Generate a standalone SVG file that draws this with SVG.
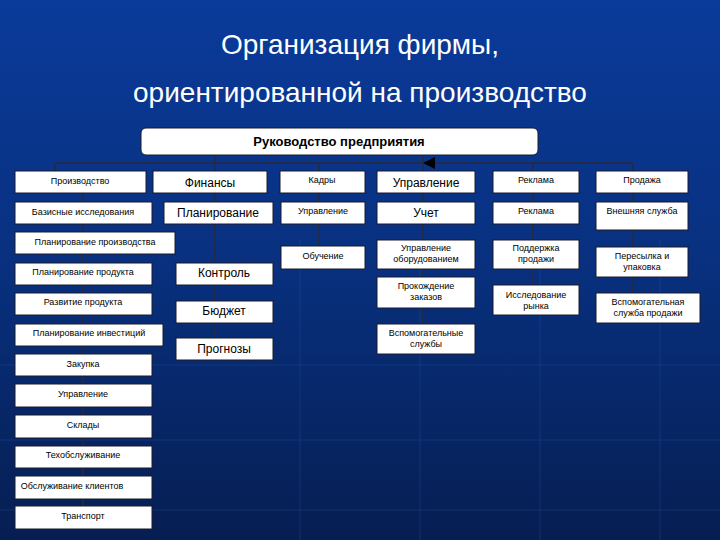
<svg xmlns="http://www.w3.org/2000/svg" width="720" height="540" viewBox="0 0 720 540">
<defs>
<linearGradient id="bg" x1="0" y1="0" x2="0" y2="1">
<stop offset="0" stop-color="#0a3a9a"/><stop offset="0.5" stop-color="#08307e"/><stop offset="1" stop-color="#061e52"/>
</linearGradient>
<marker id="ar" viewBox="0 0 10 10" refX="5" refY="10" markerWidth="8" markerHeight="8" orient="auto"><path d="M0,0 L10,0 L5,10 z" fill="#000"/></marker>
</defs>
<style>
.b{fill:#fff;stroke:#1a1a2a;stroke-width:1}
.s{font-family:"Liberation Sans",Arial,sans-serif;font-size:9px;fill:#000;text-anchor:middle}
.m{font-family:"Liberation Sans",Arial,sans-serif;font-size:12px;fill:#000;text-anchor:middle}
.c{stroke:#2a2a3a;stroke-width:1.5;fill:none}
.g{stroke:#2a5ab0;stroke-width:0.6;opacity:0.5}
</style>
<rect width="720" height="540" fill="url(#bg)"/>
<g class="g"><line x1="0" y1="365" x2="720" y2="365"/><line x1="0" y1="440" x2="720" y2="440"/><line x1="0" y1="510" x2="720" y2="510"/><line x1="300" y1="240" x2="300" y2="540"/><line x1="420" y1="240" x2="420" y2="540"/><line x1="540" y1="240" x2="540" y2="540"/><line x1="660" y1="240" x2="660" y2="540"/></g>
<text x="360" y="54" font-family="Liberation Sans,Arial,sans-serif" font-size="28" fill="#fff" text-anchor="middle">Организация фирмы,</text>
<text x="360" y="102" font-family="Liberation Sans,Arial,sans-serif" font-size="28" fill="#fff" text-anchor="middle">ориентированной на производство</text>
<g id="connectors" class="c">
<line x1="55" y1="163" x2="633" y2="163"/>
<line x1="423" y1="155" x2="423" y2="163" marker-end="url(#ar)"/>
<line x1="55" y1="163" x2="55" y2="171"/>
<line x1="83" y1="193" x2="83" y2="506"/>
<line x1="215" y1="155" x2="215" y2="338"/>
<line x1="319" y1="163" x2="319" y2="246"/>
<line x1="423" y1="163" x2="423" y2="324"/>
<line x1="533" y1="163" x2="533" y2="285"/>
<line x1="633" y1="163" x2="633" y2="293"/>
</g>
<g id="top"><rect x="141" y="128" width="397" height="27" rx="5" class="b"/><text x="339" y="146" font-family="Liberation Sans,Arial,sans-serif" font-size="13" font-weight="bold" text-anchor="middle">Руководство предприятия</text></g>
<g id="n1"><rect class="b" x="15" y="171" width="131" height="22"/><text class="s" x="80" y="184">Производство</text></g>
<g id="n2"><rect class="b" x="15" y="202" width="137" height="22"/><text class="s" x="83" y="215">Базисные исследования</text></g>
<g id="n3"><rect class="b" x="15" y="232" width="160" height="22"/><text class="s" x="95" y="245">Планирование производства</text></g>
<g id="n4"><rect class="b" x="15" y="263" width="137" height="22"/><text class="s" x="83" y="275">Планирование продукта</text></g>
<g id="n5"><rect class="b" x="15" y="293" width="137" height="22"/><text class="s" x="83" y="305">Развитие продукта</text></g>
<g id="n6"><rect class="b" x="15" y="324" width="148" height="22"/><text class="s" x="89" y="336">Планирование инвестиций</text></g>
<g id="n7"><rect class="b" x="15" y="354" width="137" height="22"/><text class="s" x="83" y="367">Закупка</text></g>
<g id="n8"><rect class="b" x="15" y="384" width="137" height="23"/><text class="s" x="83" y="397">Управление</text></g>
<g id="n9"><rect class="b" x="15" y="415" width="137" height="23"/><text class="s" x="83" y="428">Склады</text></g>
<g id="n10"><rect class="b" x="15" y="446" width="137" height="22"/><text class="s" x="83" y="458">Техобслуживание</text></g>
<g id="n11"><rect class="b" x="15" y="476" width="137" height="23"/><text class="s" x="72" y="489">Обслуживание клиентов</text></g>
<g id="n12"><rect class="b" x="15" y="506" width="137" height="23"/><text class="s" x="83" y="519">Транспорт</text></g>
<g id="f1"><rect class="b" x="153" y="171" width="114" height="22"/><text class="m" x="210" y="187">Финансы</text></g>
<g id="f2"><rect class="b" x="164" y="202" width="109" height="22"/><text class="m" x="218" y="217">Планирование</text></g>
<g id="f3"><rect class="b" x="176" y="263" width="97" height="22"/><text class="m" x="224" y="277">Контроль</text></g>
<g id="f4"><rect class="b" x="176" y="301" width="97" height="22"/><text class="m" x="224" y="315">Бюджет</text></g>
<g id="f5"><rect class="b" x="176" y="338" width="97" height="22"/><text class="m" x="224" y="353">Прогнозы</text></g>
<g id="k1"><rect class="b" x="280" y="171" width="85" height="22"/><text class="s" x="322" y="183">Кадры</text></g>
<g id="k2"><rect class="b" x="281" y="202" width="84" height="22"/><text class="s" x="323" y="214">Управление</text></g>
<g id="k3"><rect class="b" x="281" y="246" width="84" height="23"/><text class="s" x="323" y="259">Обучение</text></g>
<g id="u1"><rect class="b" x="377" y="171" width="98" height="22"/><text class="m" x="426" y="187">Управление</text></g>
<g id="u2"><rect class="b" x="377" y="202" width="98" height="22"/><text class="m" x="426" y="217">Учет</text></g>
<g id="u3"><rect class="b" x="377" y="240" width="98" height="29"/><text class="s" x="426" y="251">Управление</text><text class="s" x="426" y="262">оборудованием</text></g>
<g id="u4"><rect class="b" x="377" y="277" width="98" height="31"/><text class="s" x="426" y="289">Прокождение</text><text class="s" x="426" y="300">заказов</text></g>
<g id="u5"><rect class="b" x="377" y="324" width="98" height="30"/><text class="s" x="426" y="336">Вспомогательные</text><text class="s" x="426" y="347">службы</text></g>
<g id="r1"><rect class="b" x="493" y="171" width="86" height="22"/><text class="s" x="536" y="183">Реклама</text></g>
<g id="r2"><rect class="b" x="493" y="202" width="86" height="22"/><text class="s" x="536" y="214">Реклама</text></g>
<g id="r3"><rect class="b" x="493" y="240" width="86" height="29"/><text class="s" x="536" y="251">Поддержка</text><text class="s" x="536" y="262">продажи</text></g>
<g id="r4"><rect class="b" x="493" y="285" width="86" height="30"/><text class="s" x="536" y="298">Исследование</text><text class="s" x="536" y="309">рынка</text></g>
<g id="p1"><rect class="b" x="596" y="171" width="92" height="22"/><text class="s" x="642" y="183">Продажа</text></g>
<g id="p2"><rect class="b" x="596" y="202" width="92" height="28"/><text class="s" x="642" y="214">Внешняя служба</text></g>
<g id="p3"><rect class="b" x="596" y="247" width="92" height="30"/><text class="s" x="642" y="259">Пересылка и</text><text class="s" x="642" y="270">упаковка</text></g>
<g id="p4"><rect class="b" x="596" y="293" width="104" height="30"/><text class="s" x="648" y="305">Вспомогательная</text><text class="s" x="648" y="316">служба продажи</text></g>
</svg>
